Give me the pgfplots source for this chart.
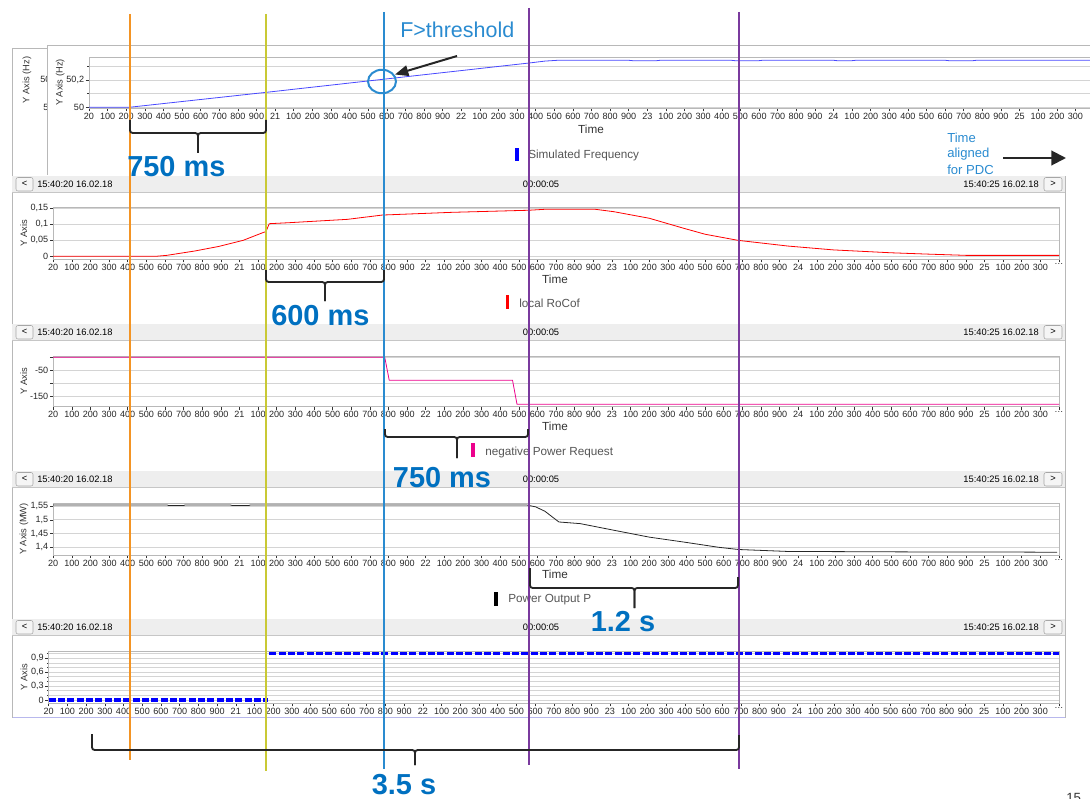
\documentclass[border=0pt]{standalone}
\usepackage{fontspec}
\setmainfont{Liberation Sans}
\usepackage{pgfplots}
\pgfplotsset{compat=1.18}
\usetikzlibrary{arrows.meta}

\definecolor{cOrange}{HTML}{F39424}
\definecolor{cYellow}{HTML}{C9C935}
\definecolor{cBlue}{HTML}{2A8BD0}
\definecolor{cPurple}{HTML}{7A3A9E}
\definecolor{cText}{HTML}{0070C0}
\definecolor{cFreq}{HTML}{4848FF}
\definecolor{cGrid}{HTML}{D4D4D4}
\definecolor{cFrame}{HTML}{B8B8B8}
\definecolor{cBar}{HTML}{EEEEEE}
\definecolor{cLeg}{HTML}{555555}

\newcommand\uifont{\fontsize{7}{8}\selectfont}
\newcommand\legfont{\fontsize{8.8}{10}\selectfont}
\newcommand\bigfont{\fontsize{21.7}{24}\selectfont\bfseries}

\pgfplotsset{
 panel/.style={
  scale only axis, anchor=south west,
  xmin=20, xmax=25.4,
  xtick={20,20.1,...,25.45},
  xticklabels={20,100,200,300,400,500,600,700,800,900,21,100,200,300,400,500,600,700,800,900,22,100,200,300,400,500,600,700,800,900,23,100,200,300,400,500,600,700,800,900,24,100,200,300,400,500,600,700,800,900,25,100,200,300,{\ldots}},
  tick align=outside, tick pos=left,
  major tick length=2.5pt, minor tick length=1.3pt,
  tick style={black!80, line width=0.4pt},
  axis line style={cFrame},
  major grid style={cGrid, line width=0.6pt},
  minor grid style={cGrid, line width=0.6pt},
  ymajorgrids,
  tick label style={font=\fontsize{6.8}{7}\selectfont, text=black!85},
  xticklabel style={inner sep=1pt},
  yticklabel style={inner sep=1pt},
  ylabel style={font=\fontsize{7}{8}\selectfont, text=black!80, at={(axis description cs:0,0.5)}, anchor=center},
 }
}

\newcommand\toolbar[1]{%
 \fill[cBar] (12,#1) rectangle (1065,{#1+16});
 \draw[gray!45] (12,{#1+16.5}) -- (1065,{#1+16.5});
 \draw[gray!70, fill=white!92!gray, rounded corners=1.5pt] (16,{#1+1.5}) rectangle (33,{#1+15});
 \node[font=\uifont] at (24.5,{#1+8}) {<};
 \node[font=\uifont, anchor=west, inner sep=0pt] at (37,{#1+8}) {15:40:20 16.02.18};
 \node[font=\uifont, inner sep=0pt] at (541,{#1+8}) {00:00:05};
 \node[font=\uifont, anchor=east, inner sep=0pt] at (1039,{#1+8}) {15:40:25 16.02.18};
 \draw[gray!70, fill=white!92!gray, rounded corners=1.5pt] (1044,{#1+1.5}) rectangle (1062,{#1+15});
 \node[font=\uifont] at (1053,{#1+8}) {>};
}
% brace: x1,y1 (left end top), x2,y2 (right end top), xm, ybar, ytip
\newcommand\bracedn[7]{%
 \draw[black!85, line width=1.4pt, rounded corners=2pt] (#1,#2) -- (#1,#6) -- (#5,#6) -- (#5,#7);
 \draw[black!85, line width=1.4pt, rounded corners=2pt] (#3,#4) -- (#3,#6) -- (#5,#6) -- (#5,#7);
}
\newcommand\AT[2]{at={({#1*0.75pt},{-#2*0.75pt})}}

\begin{document}
\begin{tikzpicture}[x=0.75pt,y=-0.75pt]
\useasboundingbox (0,0) rectangle (1090,799);

% ---------- window frames ----------
\begin{scope}
 \clip (12,48) rectangle (47,175);
 \draw[cFrame] (12.5,48.5) rectangle (60,190);
 \node[font=\fontsize{7}{8}\selectfont, text=black!80, rotate=90] at (27,80) {Y Axis (Hz)};
 \node[font=\fontsize{6.8}{7}\selectfont, text=black!85, anchor=west, inner sep=0pt] at (40,80) {50,2};
 \node[font=\fontsize{6.8}{7}\selectfont, text=black!85, anchor=west, inner sep=0pt] at (43,107.5) {50};
\end{scope}
\draw[cFrame] (47,45.5) -- (1100,45.5);
\draw[cFrame] (47.5,45.5) -- (47.5,175);
\draw[cFrame] (12.5,48) -- (12.5,717.5);
\draw[cFrame] (1065,176) -- (1065,717.5);
\draw[gray!40!blue!35] (12.5,717.5) -- (1065,717.5);

\toolbar{176}
\toolbar{324}
\toolbar{471}
\toolbar{619}

% ---------- panel 1: simulated frequency ----------
\begin{axis}[panel, \AT{89}{108}, width=753.75pt, height=38.25pt,
  ymin=49.995, ymax=50.37,
  ytick={50,50.2}, yticklabels={{50},{50,2}},
  minor ytick={50.1,50.3}, yminorgrids,
  ylabel={Y Axis (Hz)}, ylabel style={yshift=21.5pt}]
\addplot[cFreq, line width=0.6pt] coordinates {
(20,50.0) (20.215,50.0) (20.951,50.11) (21.586,50.207) (22.366,50.326) (22.45,50.340) (22.52,50.346)
(22.9,50.346) (22.92,50.343) (23.05,50.343) (23.07,50.346) (23.45,50.346) (23.47,50.343) (23.6,50.343)
(23.62,50.346) (24.0,50.346) (24.02,50.343) (24.1,50.343) (24.12,50.346) (24.6,50.346) (24.62,50.343)
(24.75,50.343) (24.77,50.346) (25.4,50.346)};
\end{axis}

% ---------- panel 2: local RoCoF ----------
\begin{axis}[panel, \AT{53.2}{259}, width=754.35pt, height=38.6pt,
  ymin=-0.0084, ymax=0.1525,
  ytick={0,0.05,0.1,0.15}, yticklabels={0,{0,05},{0,1},{0,15}},
  ylabel={Y Axis}, ylabel style={yshift=22pt}]
\addplot[red, line width=0.6pt] coordinates {
(20,0) (20.55,0) (20.61,0.003) (20.76,0.0166) (20.89,0.031) (21.02,0.05) (21.13,0.075) (21.142,0.077)
(21.16,0.102) (21.263,0.105) (21.58,0.1156) (21.767,0.129) (22.14,0.1375) (22.554,0.144) (22.64,0.147)
(22.91,0.147) (23.01,0.1395) (23.2,0.119) (23.386,0.0875) (23.5,0.069) (23.676,0.05) (23.946,0.032)
(24.19,0.020) (24.5,0.011) (24.69,0.007) (24.9,0.003) (25.4,0.003)};
\end{axis}

% ---------- panel 3: negative power request ----------
\begin{axis}[panel, \AT{53.2}{406.5}, width=754.35pt, height=37.9pt,
  ymin=-189, ymax=5,
  ytick={-150,-100,-50,0}, yticklabels={-150,{},-50,{}},
  ylabel={Y Axis}, ylabel style={yshift=22pt}]
\addplot[magenta, line width=0.6pt] coordinates {
(20,0) (21.78,0) (21.804,-88) (22.466,-88) (22.49,-180) (25.4,-180)};
\end{axis}

% ---------- panel 4: power output ----------
\begin{axis}[panel, \AT{53.2}{555}, width=754.35pt, height=39pt,
  ymin=1.372, ymax=1.561,
  ytick={1.4,1.45,1.5,1.55}, yticklabels={{1,4},{1,45},{1,5},{1,55}},
  ylabel={Y Axis (MW)}, ylabel style={yshift=22pt}]
\addplot[black!85, line width=0.6pt] coordinates {
(20,1.554) (20.61,1.554) (20.62,1.552) (20.70,1.552) (20.71,1.554) (20.95,1.554) (20.96,1.552)
(21.05,1.552) (21.06,1.554) (21.6,1.554) (22.54,1.554) (22.59,1.547) (22.64,1.531) (22.715,1.492)
(22.83,1.486) (23.01,1.462) (23.2,1.437) (23.386,1.419) (23.573,1.40) (23.68,1.392) (23.94,1.385)
(24.32,1.384) (24.69,1.383) (25.07,1.383) (25.39,1.382)};
\end{axis}

% ---------- panel 5: status ----------
\begin{axis}[panel, \AT{48.7}{703}, width=757.7pt, height=39pt,
  ymin=-0.065, ymax=1.058,
  ytick={0,0.3,0.6,0.9}, yticklabels={0,{0,3},{0,6},{0,9}},
  minor ytick={0.1,0.2,0.4,0.5,0.7,0.8,1.0}, yminorgrids,
  ylabel={Y Axis}, ylabel style={yshift=18.5pt}]
\addplot[blue, line width=2.4pt, dash pattern=on 5.2pt off 1.8pt] coordinates {(20,0) (21.17,0)};
\addplot[blue, line width=2.4pt, dash pattern=on 5.2pt off 1.8pt] coordinates {(21.18,1) (25.4,1)};
\end{axis}

% ---------- axis titles and legends ----------
\node[font=\legfont, text=black!80] at (591,129) {Time};
\node[font=\legfont, text=black!80] at (555,279) {Time};
\node[font=\legfont, text=black!80] at (555,426.5) {Time};
\node[font=\legfont, text=black!80] at (555,574) {Time};
\fill[blue] (515,148) rectangle (518.5,161);
\node[font=\legfont, text=cLeg, anchor=west, inner sep=0pt] at (528,155) {Simulated Frequency};
\fill[red] (505.5,295) rectangle (509,309);
\node[font=\legfont, text=cLeg, anchor=west, inner sep=0pt] at (519,303) {local RoCof};
\fill[magenta] (471,443) rectangle (474.5,457);
\node[font=\legfont, text=cLeg, anchor=west, inner sep=0pt] at (485,452) {negative Power Request};
\fill[black] (494,592) rectangle (497.5,606);
\node[font=\legfont, text=cLeg, anchor=west, inner sep=0pt] at (508,600) {Power Output P};

% ---------- annotation lines ----------
\draw[cOrange, line width=1.6pt] (130,14) -- (130,760);
\draw[cYellow, line width=1.6pt] (266,14) -- (266,771);
\draw[cBlue, line width=1.6pt] (384,12) -- (384,769);
\draw[cPurple, line width=1.6pt] (529,8) -- (529,765);
\draw[cPurple, line width=1.6pt] (739,12) -- (739,769);

% ---------- braces ----------
\bracedn{130}{120}{266}{120}{198}{133}{153}
\bracedn{266}{270}{384}{270}{325}{282}{301}
\bracedn{385}{429}{528}{429}{457}{437}{458}
\bracedn{530}{568}{738}{577}{634.5}{588}{608}
\bracedn{92}{734}{739}{735}{415}{750}{765}

% ---------- annotation texts ----------
\node[font=\bigfont, text=cText, anchor=west, inner sep=0pt] at (127,167) {750 ms};
\node[font=\bigfont, text=cText, anchor=west, inner sep=0pt] at (271,316) {600 ms};
\node[font=\bigfont, text=cText, inner sep=0pt] at (442,478) {750 ms};
\node[font=\bigfont, text=cText, inner sep=0pt] at (623,622) {1.2 s};
\node[font=\bigfont, text=cText, inner sep=0pt] at (404,785) {3.5 s};

\node[font=\fontsize{16.1}{18}\selectfont, text=cBlue, anchor=west, inner sep=0pt] at (400,30) {F>threshold};
\draw[cBlue, line width=1.5pt] (382,81.5) ellipse [x radius=10.5pt, y radius=8.8pt];
\draw[black!85, line width=1.5pt, -{Triangle[length=10pt,width=8pt]}] (457,56) -- (395,74.5);

\node[font=\fontsize{9.8}{12}\selectfont, text=cBlue, anchor=west, inner sep=0pt] at (947,138) {Time};
\node[font=\fontsize{9.8}{12}\selectfont, text=cBlue, anchor=west, inner sep=0pt] at (947,154) {aligned};
\node[font=\fontsize{9.8}{12}\selectfont, text=cBlue, anchor=west, inner sep=0pt] at (947,170) {for PDC};
\draw[black!85, line width=1.5pt, -{Triangle[length=11pt,width=11pt]}] (1003,158) -- (1066,158);

\node[font=\fontsize{10}{12}\selectfont, text=black!80, anchor=north west, inner sep=0pt] at (1066,793) {15};
\end{tikzpicture}
\end{document}
